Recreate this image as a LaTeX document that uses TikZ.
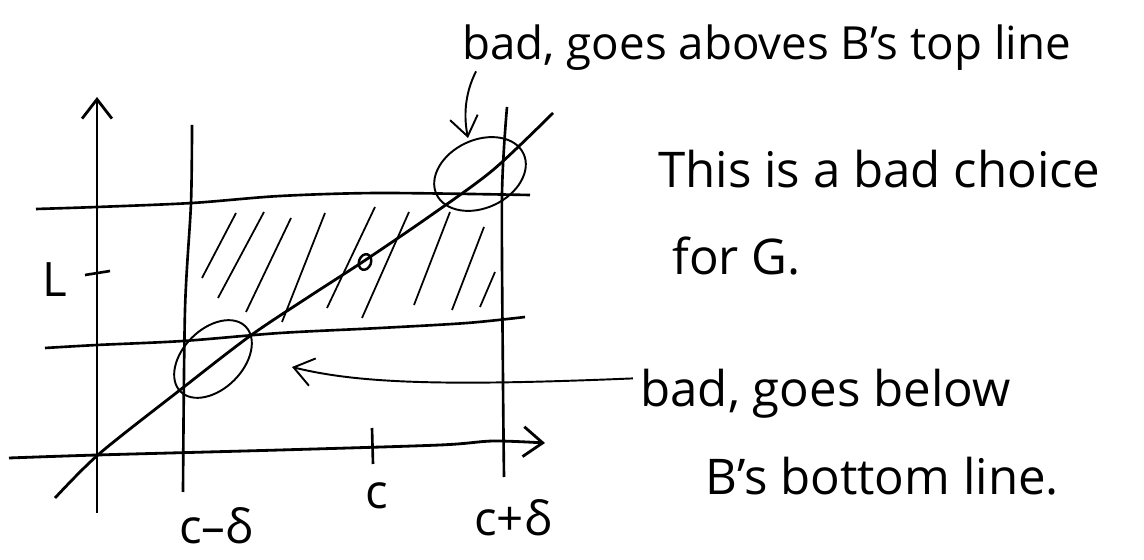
\documentclass[tikz,border=0pt]{standalone}
\usepackage{fontspec}
\setmainfont{Open Sans}
\usetikzlibrary{arrows.meta}

\begin{document}
\begin{tikzpicture}[x=0.02cm,y=-0.02cm,
  axis/.style={line width=1.6pt,-{Straight Barb[length=11pt,width=17pt]}},
  bar/.style={line width=1.5pt},
  hatch/.style={line width=1pt},
  loopy/.style={line width=1.1pt},
  pointer/.style={line width=1.1pt,-{Straight Barb[length=11pt,width=16pt]}},
  note/.style={font=\fontsize{28}{32}\selectfont,inner sep=0pt},
  lbl/.style={font=\fontsize{27}{32}\selectfont,inner sep=0pt}]
\useasboundingbox (0,0) rectangle (1144,560);
\draw[axis] (97,513)--(97,97);
\draw[axis] plot[smooth] coordinates {(9,458) (97,455) (280,450) (440,445) (493,441) (545,443)};
\draw[bar] (85,275)--(110,271);
\draw[bar] (372,428)--(373,464);
\draw[bar] plot[smooth] coordinates {(192,125) (191,203) (185,310) (183,492)};
\draw[bar] plot[smooth] coordinates {(507,107) (502,195) (503,382) (504,477)};
\draw[bar] plot[smooth] coordinates {(36,209) (97,207) (192,203) (280,196) (380,193) (530,195)};
\draw[bar] plot[smooth] coordinates {(45,348) (97,345) (183,341) (280,333) (380,328) (467,323) (525,317)};
\draw[hatch] (236,213)--(202,278);
\draw[hatch] (264,212)--(218,298);
\draw[hatch] (291,218)--(246,312);
\draw[hatch] (325,213)--(282,322);
\draw[hatch] (375,207)--(327,308);
\draw[hatch] (409,212)--(362,318);
\draw[hatch] (450,212)--(414,305);
\draw[hatch] (484,227)--(452,310);
\draw[hatch] (495,272)--(480,307);
\draw[line width=1.6pt] plot[smooth] coordinates {(55,498) (99,454) (180,390) (250,336) (310,296) (364,261) (430,216) (493,170) (553,113)};
\coordinate (dot) at (365,262);
\coordinate (hiloop) at (480,174);
\coordinate (loloop) at (213,359);
\coordinate (lotip) at (292,367);
\coordinate (hitip) at (468,138);
\draw[loopy,line width=1.4pt,rotate around={-20:(dot)}] (dot) ellipse [x radius=6, y radius=8];
\draw[loopy,rotate around={25:(hiloop)}] (hiloop) ellipse [x radius=48, y radius=34];
\draw[loopy,rotate around={45:(loloop)}] (loloop) ellipse [x radius=46, y radius=30];
\node[note,font=\fontsize{26}{30}\selectfont,anchor=base west] (abovenote) at (462,60) {bad, goes aboves B's top line};
\node[note,anchor=base west] (choicea) at (658,188) {This is a bad choice};
\node[note,anchor=base west] (choiceb) at (672,275) {for G.};
\node[note,anchor=base west] (belownote) at (640,407) {bad, goes below};
\node[note,anchor=base west] (belownoteb) at (705,495) {B's bottom line.};
\node[lbl] (lbll) at (55,280) {L};
\node[lbl] (lblc) at (377,496) {c};
\node[lbl] (lblcp) at (513,518) {c+δ};
\node[lbl] (lblcm) at (216,526) {c–δ};
\draw[pointer] ([xshift=8pt]abovenote.south west) .. controls (464,95) and (464,118) .. (hitip);
\draw[pointer] ([shift={(-4pt,9pt)}]belownote.west) .. controls (450,386) and (360,384) .. (lotip);
\end{tikzpicture}
\end{document}
